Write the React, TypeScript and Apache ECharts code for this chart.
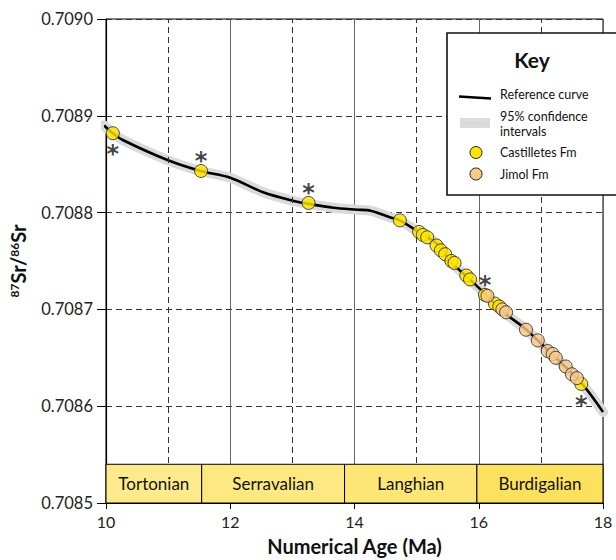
import React, { useEffect, useRef } from "react";
import * as echarts from "echarts";

// Reference Sr-isotope curve (age Ma, 87Sr/86Sr)
const refCurve: [number, number][] = [
  [9.97, 0.70889], [10.11, 0.708882], [10.27, 0.708875], [11.0, 0.708854],
  [11.52, 0.708843], [12.0, 0.708836], [12.53, 0.708821], [13.02, 0.708812],
  [13.26, 0.708809], [13.66, 0.708805], [14.05, 0.708803], [14.26, 0.708802],
  [14.58, 0.708795], [14.73, 0.708792], [15.03, 0.70878], [15.34, 0.708767],
  [15.55, 0.708749], [15.84, 0.708732], [16.15, 0.708713], [16.4, 0.708697],
  [16.73, 0.708681], [17.11, 0.708658], [17.65, 0.708624], [18.0, 0.708594],
];

const castilletes: [number, number][] = [
  [10.11, 0.708882], [11.53, 0.708843], [13.26, 0.70881], [14.73, 0.708792],
  [15.04, 0.70878], [15.1, 0.708777], [15.17, 0.7087745], [15.32, 0.708766],
  [15.39, 0.708761], [15.46, 0.708757], [15.56, 0.70875], [15.61, 0.708748],
  [15.8, 0.708735], [15.86, 0.708731], [16.1, 0.708715], [16.26, 0.708706],
  [16.33, 0.708703], [17.65, 0.708623],
];

const jimol: [number, number][] = [
  [16.14, 0.708714], [16.38, 0.7087], [16.44, 0.708697], [16.76, 0.708679],
  [16.95, 0.708668], [17.11, 0.708657], [17.19, 0.708654], [17.24, 0.70865],
  [17.4, 0.708641], [17.5, 0.708633], [17.58, 0.708629],
];

// samples marked with an asterisk; "above" / "below" = side of the mark
const starred: [number, number, string][] = [
  [10.11, 0.708882, "below"], [11.53, 0.708843, "above"], [13.26, 0.70881, "above"],
  [16.1, 0.708715, "above"], [17.65, 0.708623, "below"],
];

const stageNames = ["Tortonian", "Serravalian", "Langhian", "Burdigalian"];
const stageBounds = [10, 11.54, 13.84, 15.97, 18];
const stageColors = ["#FDEA8D", "#FDE882", "#FDE676", "#FBE15E"];
const stageTop = 0.70854;
const yMin = 0.7085;

const oddAges = [11, 13, 15, 17];

const FONT = "Lato, 'Open Sans', sans-serif";

export default function App() {
  const ref = useRef<HTMLDivElement>(null);
  useEffect(() => {
    if (!ref.current) return;
    const chart = echarts.init(ref.current, undefined, { renderer: "svg" });
    const stageData = stageNames.map((n, i) => [stageBounds[i], stageBounds[i + 1], i, n]);

    const keyText = (text: string, y: number) => ({
      type: "text", z: 102,
      style: { text, x: 500, y, verticalAlign: "middle", fontFamily: FONT, fontSize: 12.5, fill: "#111" },
    });

    const option: any = {
      animation: false,
      backgroundColor: "#fff",
      textStyle: { fontFamily: FONT },
      grid: {
        left: 106, right: 13, top: 19, bottom: 57,
        outerBoundsMode: "none", containLabel: false,
        show: true, borderColor: "#000", borderWidth: 1, backgroundColor: "transparent",
      },
      xAxis: {
        type: "value", min: 10, max: 18, interval: 2,
        name: "Numerical Age (Ma)", nameLocation: "middle", nameGap: 33,
        nameTextStyle: { fontFamily: FONT, fontSize: 20, fontWeight: "bold", color: "#111" },
        axisLine: { lineStyle: { color: "#000", width: 1.2 } },
        axisTick: { show: true, length: 6, lineStyle: { color: "#000" } },
        axisLabel: { fontFamily: FONT, fontSize: 16, color: "#222", margin: 10 },
        splitLine: { show: true, lineStyle: { color: "#666", width: 1, type: "solid" } },
      },
      yAxis: {
        type: "value", min: yMin, max: 0.709, interval: 0.0001,
        name: "{sup|87}{b|Sr/}{sup|86}{b|Sr}",
        nameLocation: "middle", nameGap: 78, nameRotate: 90,
        nameTextStyle: {
          rich: {
            b: { fontFamily: FONT, fontSize: 20, fontWeight: "bold", color: "#111" },
            sup: { fontFamily: FONT, fontSize: 12, fontWeight: "bold", color: "#111", verticalAlign: "top", padding: [0, 0, 8, 0] },
          },
        },
        axisLine: { show: true, lineStyle: { color: "#000", width: 1.2 } },
        axisTick: { show: true, length: 9, lineStyle: { color: "#000" } },
        axisLabel: {
          fontFamily: FONT, fontSize: 16.5, color: "#222", margin: 13,
          formatter: (v: number) => v.toFixed(4),
        },
        splitLine: { show: true, lineStyle: { color: "#333", width: 1, type: [6, 4] } },
      },
      series: [
        {
          name: "95% confidence intervals", type: "line", data: refCurve, smooth: 0.3,
          showSymbol: false, symbol: "none", z: 2, silent: true,
          lineStyle: { color: "#DADADA", width: 10, cap: "round" },
          markLine: {
            silent: true, symbol: "none", label: { show: false },
            lineStyle: { color: "#333", width: 1, type: [6, 4] },
            data: oddAges.map((a) => ({ xAxis: a })),
          },
        },
        {
          name: "Reference curve", type: "line", data: refCurve, smooth: 0.3,
          showSymbol: false, symbol: "none", z: 3, silent: true,
          lineStyle: { color: "#000", width: 2.6 },
        },
        {
          name: "Stages", type: "custom", z: 10, silent: true,
          data: stageData,
          renderItem: (params: any, api: any) => {
            const s = api.value(0), e = api.value(1), idx = api.value(2);
            const p0 = api.coord([s, stageTop]);
            const p1 = api.coord([e, yMin]);
            return {
              type: "group",
              children: [
                {
                  type: "rect",
                  shape: { x: p0[0], y: p0[1], width: p1[0] - p0[0], height: p1[1] - p0[1] },
                  style: { fill: stageColors[idx], stroke: "#000", lineWidth: 1 },
                },
                {
                  type: "text",
                  style: {
                    text: stageNames[idx], x: (p0[0] + p1[0]) / 2, y: (p0[1] + p1[1]) / 2,
                    align: "center", verticalAlign: "middle",
                    fontFamily: FONT, fontSize: 17, fill: "#111",
                  },
                },
              ],
            };
          },
        },
        {
          name: "Castilletes Fm", type: "scatter", data: castilletes, z: 20,
          symbolSize: 13,
          itemStyle: { color: "#FFE600", borderColor: "#222", borderWidth: 1 },
        },
        {
          name: "Jimol Fm", type: "scatter", data: jimol, z: 21,
          symbolSize: 13,
          itemStyle: { color: "#F9C98A", borderColor: "#222", borderWidth: 1 },
        },
        {
          name: "Dated", type: "scatter", z: 22, silent: true,
          symbolSize: 1, itemStyle: { color: "rgba(0,0,0,0)" },
          data: starred.map((d) => ({
            value: [d[0], d[1]],
            label: {
              show: true, position: "inside", formatter: "*",
              offset: [0, d[2] === "above" ? -10 : 21],
              fontFamily: "'DejaVu Sans', sans-serif", fontSize: 24, fontWeight: "bold", color: "#111",
            },
          })),
        },
      ],
      graphic: [
        { type: "rect", z: 100, shape: { x: 447, y: 33, width: 180, height: 162 }, style: { fill: "#fff", stroke: "#111", lineWidth: 1.6 } },
        { type: "text", z: 102, style: { text: "Key", x: 532, y: 59, align: "center", verticalAlign: "middle", fontFamily: FONT, fontSize: 21, fontWeight: "bold", fill: "#111" } },
        { type: "line", z: 101, shape: { x1: 459, y1: 96.5, x2: 491, y2: 98.5 }, style: { stroke: "#000", lineWidth: 2.6 } },
        keyText("Reference curve", 94),
        { type: "rect", z: 101, shape: { x: 460, y: 118, width: 30, height: 10 }, style: { fill: "#DCDCDC" } },
        { type: "line", z: 101, shape: { x1: 461, y1: 123, x2: 489, y2: 123 }, style: { stroke: "#c4c4c4", lineWidth: 1, lineDash: [1, 2] } },
        keyText("95% confidence", 116),
        keyText("intervals", 131),
        { type: "circle", z: 101, shape: { cx: 476, cy: 152.5, r: 6 }, style: { fill: "#FFE600", stroke: "#222", lineWidth: 1 } },
        keyText("Castilletes Fm", 152),
        { type: "circle", z: 101, shape: { cx: 476, cy: 174, r: 6 }, style: { fill: "#F9C98A", stroke: "#222", lineWidth: 1 } },
        keyText("Jimol Fm", 174),
      ],
    };
    chart.setOption(option);
    return () => chart.dispose();
  }, []);
  return <div ref={ref} style={{ width: 616, height: 560, position: "absolute", left: 0, top: 0 }} />;
}
